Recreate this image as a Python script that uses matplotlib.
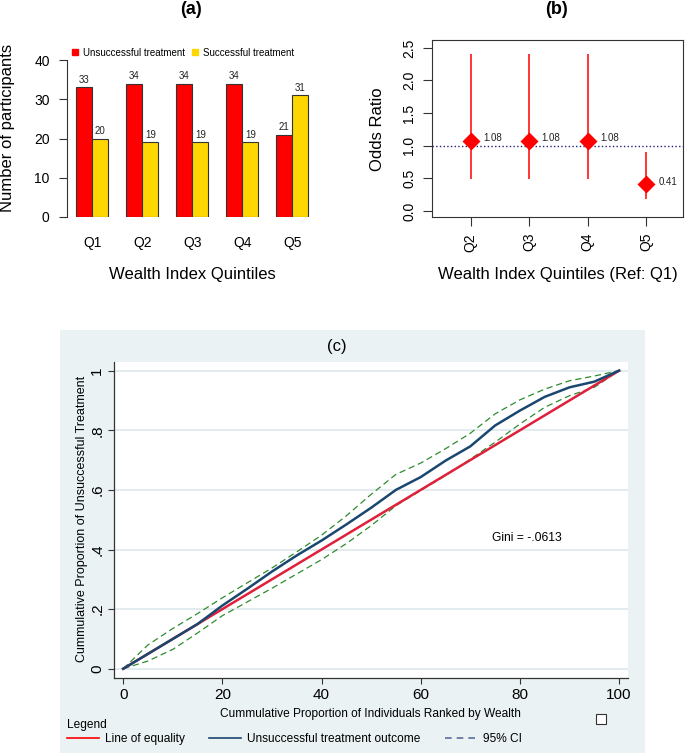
import matplotlib
matplotlib.use('Agg')
import matplotlib.pyplot as plt
from matplotlib.lines import Line2D
from matplotlib.patches import Rectangle
import numpy as np

plt.rcParams['font.family'] = ['Liberation Sans', 'DejaVu Sans']
narrow = ['Liberation Sans Narrow', 'Liberation Sans', 'DejaVu Sans']

# (a) participants by wealth quintile
quintiles = ['Q1', 'Q2', 'Q3', 'Q4', 'Q5']
unsuccessful = [33, 34, 34, 34, 21]
successful = [20, 19, 19, 19, 31]

# (b) odds ratios, reference Q1
or_labels = ['Q2', 'Q3', 'Q4', 'Q5']
odds_ratio = [1.08, 1.08, 1.08, 0.41]
ci_low = [0.49, 0.49, 0.49, 0.18]
ci_high = [2.41, 2.41, 2.41, 0.91]

# (c) concentration curve of unsuccessful treatment
cum_pop = [0, 5, 10, 15, 20, 25, 30, 35, 40, 45, 50, 55, 60, 65, 70, 75, 80, 85, 90, 95, 100]
conc = [0, 0.05, 0.10, 0.150, 0.212, 0.268, 0.326, 0.380, 0.430, 0.484, 0.540, 0.600,
        0.643, 0.698, 0.746, 0.816, 0.866, 0.912, 0.944, 0.963, 1.0]
conc_hi = [0, 0.08, 0.135, 0.185, 0.238, 0.288, 0.338, 0.392, 0.448, 0.513, 0.585, 0.652,
           0.690, 0.738, 0.790, 0.855, 0.902, 0.938, 0.966, 0.982, 1.0]
conc_lo = [0, 0.026, 0.065, 0.12, 0.178, 0.224, 0.270, 0.318, 0.366, 0.420, 0.480, 0.547,
           0.598, 0.648, 0.703, 0.760, 0.821, 0.877, 0.916, 0.944, 1.0]
equality_x = [0, 100]
equality_y = [0, 1]
gini_text = 'Gini = -.0613'

W, H = 685, 753


def px_box(l, t, r, b):
    # pixel box (left, top, right, bottom) -> figure fraction rect
    return [l / W, 1 - b / H, (r - l) / W, (b - t) / H]


def fx(x):
    return x / W


def fy(y):
    return 1 - y / H


fig = plt.figure(figsize=(W / 100, H / 100), dpi=100)

################ (a)
ax1 = fig.add_axes(px_box(67, 60, 312, 217))
x = np.arange(len(quintiles))
bw = 0.323
b1 = ax1.bar(x - bw / 2, unsuccessful, bw, color='#FF0000', edgecolor='#333333', lw=0.8)
b2 = ax1.bar(x + bw / 2, successful, bw, color='#FFD700', edgecolor='#333333', lw=0.8)
ax1.bar_label(b1, fontsize=7, padding=1.5, color='#222222')
ax1.bar_label(b2, fontsize=7, padding=1.5, color='#222222')
ax1.set_xlim(-0.504, 4.396)
ax1.set_ylim(0, 40)
ax1.set_yticks([0, 10, 20, 30, 40])
ax1.set_xticks(x, quintiles)
for s in ['top', 'right', 'bottom']:
    ax1.spines[s].set_visible(False)
ax1.spines['left'].set_color('#333333')
ax1.tick_params(axis='x', length=0, pad=14, labelsize=10)
ax1.tick_params(axis='y', length=6, pad=6.5, labelsize=10, color='#333333')
leg_h = [Line2D([], [], marker='s', ls='', color='#FF0000', ms=4.5),
         Line2D([], [], marker='s', ls='', color='#FFD700', ms=4.5)]
ax1.legend(leg_h, ['Unsuccessful treatment', 'Successful treatment'], ncol=2,
           loc='center left', bbox_to_anchor=(0.012, 1.0465), frameon=False,
           fontsize=7, handlelength=1, handletextpad=0.3, columnspacing=0.6,
           borderpad=0, borderaxespad=0)
fig.text(fx(191), fy(10), '(a)', fontsize=13, fontweight='bold', ha='center', va='center')
fig.text(fx(8), fy(128), 'Number of participants', fontsize=12, rotation=90,
         ha='center', va='center')
fig.text(fx(192), fy(275), 'Wealth Index Quintiles', fontsize=12, ha='center', va='center')

################ (b)
ax2 = fig.add_axes(px_box(432, 40, 683, 217))
pos = np.arange(1, len(or_labels) + 1)
ax2.vlines(pos, ci_low, ci_high, color='#FF0000', lw=1.1)
ax2.axhline(1, color='#1F1F7A', ls=':', lw=1)
ax2.plot(pos, odds_ratio, 'D', color='#FF0000', ms=9.5, mec='none')
for p, v in zip(pos, odds_ratio):
    ax2.annotate(f'{v:.2f}', (p, v), xytext=(9, 2), textcoords='offset points',
                 fontsize=7, va='center', ha='left', color='#222222')
ax2.set_xlim(0.34, 4.63)
ax2.set_ylim(-0.09, 2.62)
ax2.set_yticks(np.arange(0, 2.51, 0.5), ['0.0', '0.5', '1.0', '1.5', '2.0', '2.5'],
               rotation=90, va='center')
ax2.set_xticks(pos, or_labels, rotation=90)
for s in ax2.spines.values():
    s.set_color('#333333')
ax2.tick_params(axis='y', length=6.5, pad=5, labelsize=10, color='#333333')
ax2.tick_params(axis='x', length=6.5, pad=5, labelsize=10, color='#333333')
fig.text(fx(557), fy(10), '(b)', fontsize=13, fontweight='bold', ha='center', va='center')
fig.text(fx(377), fy(129), 'Odds Ratio', fontsize=12, rotation=90, ha='center', va='center')
fig.text(fx(558), fy(275), 'Wealth Index Quintiles (Ref: Q1)', fontsize=12,
         ha='center', va='center')

################ (c)
fig.add_artist(Rectangle((fx(60), 0), (645 - 60) / W, (753 - 330) / H,
                         transform=fig.transFigure, facecolor='#EAF2F3',
                         edgecolor='none', zorder=0))
ax3 = fig.add_axes(px_box(114, 361.7, 628, 678))
ax3.set_facecolor('white')
ax3.plot(cum_pop, conc_hi, color='#2E8B2E', lw=0.9, dashes=(5, 3), zorder=2)
ax3.plot(cum_pop, conc_lo, color='#2E8B2E', lw=0.9, dashes=(5, 3), zorder=2)
ax3.plot(equality_x, equality_y, color='#E0203A', lw=1.8, zorder=3)
ax3.plot(cum_pop, conc, color='#1A476F', lw=1.8, zorder=4)
ax3.text(74.4, 0.44, gini_text, fontsize=8.7, va='center', ha='left', family=narrow)
ax3.set_xlim(-1.85, 101.8)
ax3.set_ylim(-0.031, 1.03)
ax3.set_xticks([0, 20, 40, 60, 80, 100])
ax3.set_yticks([0, 0.2, 0.4, 0.6, 0.8, 1.0], ['0', '.2', '.4', '.6', '.8', '1'],
               rotation=90, va='center')
ax3.yaxis.grid(True, color='#DDE7EB', lw=1.2)
ax3.set_axisbelow(True)
for s in ['top', 'right']:
    ax3.spines[s].set_visible(False)
for s in ['left', 'bottom']:
    ax3.spines[s].set_color('#333333')
    ax3.spines[s].set_linewidth(0.9)
ax3.tick_params(length=4, pad=3, labelsize=11, color='#333333', labelfontfamily=narrow)
fig.text(fx(337), fy(347), '(c)', fontsize=12, ha='center', va='center', family=narrow)
fig.text(fx(82), fy(519), 'Cummulative Proportion of Unsuccessful Treatment', fontsize=9,
         rotation=90, ha='center', va='center', family=narrow)
fig.text(fx(370), fy(714), 'Cummulative Proportion of Individuals Ranked by Wealth',
         fontsize=8.6, ha='center', va='center', family=narrow)

leg_c = [Line2D([], [], color='#FF0000', lw=1.2),
         Line2D([], [], color='#1A476F', lw=1.2),
         Line2D([], [], color='#5B6D9C', lw=1.2, dashes=(4, 3))]
fig.legend(leg_c, ['Line of equality', 'Unsuccessful treatment outcome', '95% CI'],
           ncol=3, loc='upper left', bbox_to_anchor=(fx(67), fy(719)), title='Legend',
           alignment='left', frameon=False, prop={'family': narrow, 'size': 8.6},
           title_fontproperties={'family': narrow, 'size': 8.6}, handlelength=2.7,
           handletextpad=0.5, columnspacing=2.0, borderpad=0, borderaxespad=0,
           labelspacing=0.2)
fig.add_artist(Rectangle((fx(596), fy(724)), 10 / W, 10 / H, transform=fig.transFigure,
                         facecolor='white', edgecolor='#333333', lw=0.8))

fig.savefig('out.png', dpi=100)
